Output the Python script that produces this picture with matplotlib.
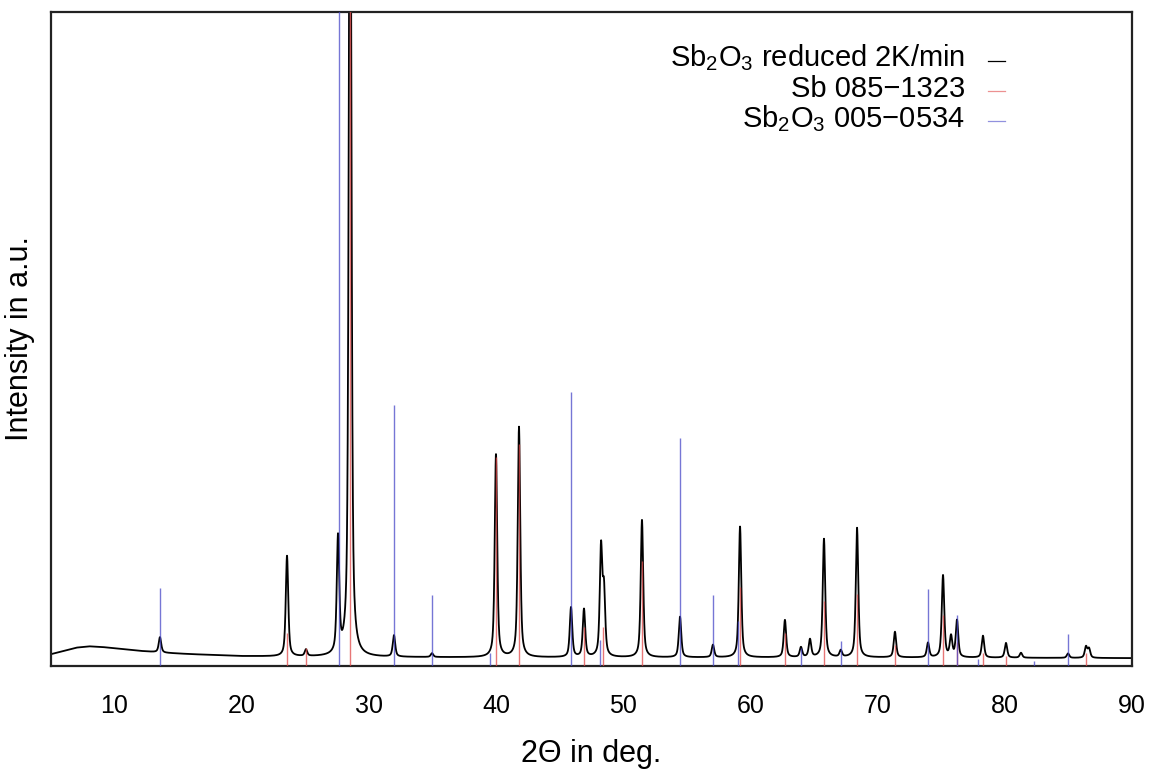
import numpy as np
import matplotlib
matplotlib.use("Agg")
import matplotlib.pyplot as plt

plt.rcParams['font.family'] = ['Liberation Sans', 'DejaVu Sans']
plt.rcParams['mathtext.default'] = 'regular'

# ---- data (2-theta in deg, intensity in a.u.) ----
baseline_pos = [5, 6, 7, 8, 9, 10, 12, 14, 16, 20, 25, 30, 40, 50, 60, 70, 80, 90]
baseline_val = [1.8, 2.3, 2.8, 3.0, 2.9, 2.7, 2.3, 2.0, 1.8, 1.5, 1.4, 1.35, 1.3, 1.3, 1.3, 1.3, 1.25, 1.2]

meas_pos = [13.57, 23.56, 25.05, 27.57, 28.52, 31.97, 34.96, 39.99, 41.80, 45.89,
            46.91, 48.25, 48.48, 51.47, 54.46, 57.05, 59.18, 62.71, 63.97, 64.68,
            65.78, 67.10, 68.38, 71.36, 73.96, 75.14, 75.77, 76.24, 78.28, 80.09,
            81.27, 84.97, 86.38, 86.62]
meas_top = [4.4, 16.8, 2.4, 19.0, 150.0, 4.6, 1.9, 32.3, 36.5, 8.9,
            8.6, 17.7, 11.0, 22.3, 7.5, 3.2, 21.3, 7.0, 2.8, 4.0,
            19.4, 2.3, 21.1, 5.2, 3.5, 13.8, 4.4, 6.9, 4.6, 3.5,
            2.0, 1.9, 2.9, 2.6]

sb_pos = [23.56, 25.05, 28.55, 39.99, 41.80, 46.91, 48.40, 51.47, 59.20, 62.71,
          65.78, 68.38, 71.36, 75.14, 76.24, 78.28, 80.09, 86.40]
sb_int = [5.0, 2.8, 130.0, 32.0, 34.0, 6.0, 6.0, 16.0, 12.0, 5.0,
          10.0, 11.0, 3.2, 7.8, 3.7, 2.0, 1.5, 2.0]

sb2o3_pos = [13.57, 27.62, 31.97, 34.96, 39.50, 45.89, 48.20, 54.46, 57.05, 59.02,
             64.00, 67.10, 73.96, 76.24, 77.90, 82.30, 84.97]
sb2o3_int = [11.9, 130.0, 39.9, 10.9, 2.0, 41.9, 4.0, 34.9, 10.9, 6.9,
             2.8, 3.8, 11.8, 7.8, 1.0, 0.8, 4.9]

labels = ['Sb$_2$O$_3$ reduced 2K/min', 'Sb 085\u22121323', 'Sb$_2$O$_3$ 005\u22120534']
xticks = [10, 20, 30, 40, 50, 60, 70, 80, 90]

# ---- build measured pattern from the read peak list ----
tt = np.arange(5.0, 90.0001, 0.01)
base = np.interp(tt, baseline_pos, baseline_val)
y = base.copy()
fwhm = 0.23
eta = 0.6
for p, h in zip(meas_pos, meas_top):
    amp = h - np.interp(p, baseline_pos, baseline_val)
    d = (tt - p) / (fwhm / 2)
    prof = eta / (1 + d ** 2) + (1 - eta) * np.exp(-np.log(2) * d ** 2)
    y += amp * prof

fig = plt.figure(figsize=(11.53, 7.76), dpi=100)
ax = fig.add_axes([0.0442, 0.1418, 0.9376, 0.8427])

ax.plot(tt, y, color='black', lw=1.3, zorder=2)
ax.vlines(sb_pos, 0, sb_int, color='#e04848', lw=1.0, alpha=0.75, zorder=3)
ax.vlines(sb2o3_pos, 0, sb2o3_int, color='#4848c8', lw=1.0, alpha=0.75, zorder=3)

ax.set_xlim(5, 90)
ax.set_ylim(0, 100)
ax.set_yticks([])
ax.set_xticks(xticks)
ax.set_xticklabels([str(v) for v in xticks])
ax.tick_params(axis='x', length=0, pad=20, labelsize=18)
for s in ax.spines.values():
    s.set_linewidth(1.6)
    s.set_color('#222222')

ax.set_xlabel('2\u0398 in deg.', fontsize=22)
ax.xaxis.set_label_coords(0.5, -0.112)
ax.set_ylabel('Intensity in a.u.', fontsize=22)
ax.yaxis.set_label_coords(-0.0148, 0.5)

# legend: right-aligned labels with line handles to the right
row_y = [0.9165, 0.8700, 0.8245]
hdl_y = [0.9257, 0.8792, 0.8337]
cols = [('black', 1.0), ('#e04848', 0.6), ('#4848c8', 0.6)]
for lab, ty, hy, (c, a) in zip(labels, row_y, hdl_y, cols):
    ax.text(0.8455, ty, lab, transform=ax.transAxes, ha='right', va='baseline', fontsize=21)
    ax.plot([0.8668, 0.8825], [hy, hy], transform=ax.transAxes, color=c, alpha=a, lw=0.9)

fig.savefig('out.png', dpi=100)
